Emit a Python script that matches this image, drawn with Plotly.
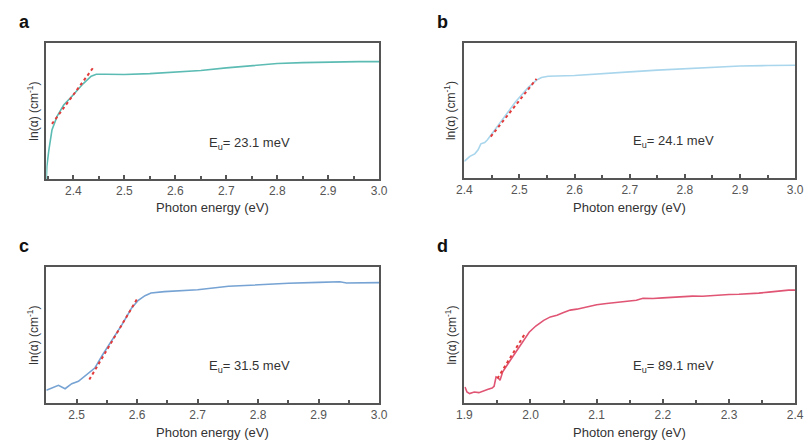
import plotly.graph_objects as go

# ---------------- data (normalized ln(alpha), arbitrary units) ----------------
a_x = [2.347, 2.348, 2.352, 2.358, 2.368, 2.381, 2.400, 2.419, 2.435, 2.445, 2.464, 2.500,
       2.550, 2.600, 2.650, 2.700, 2.750, 2.800, 2.850, 2.900, 2.935, 2.960, 3.000]
a_y = [0.0, 0.093, 0.215, 0.36, 0.46, 0.544, 0.62, 0.70, 0.756, 0.770, 0.770, 0.768,
       0.775, 0.785, 0.798, 0.817, 0.835, 0.849, 0.856, 0.861, 0.866, 0.863, 0.863]
a_fit_x = [2.358, 2.440]
a_fit_y = [0.405, 0.824]

b_x = [2.400, 2.410, 2.419, 2.425, 2.430, 2.437, 2.442, 2.451, 2.469, 2.493, 2.516, 2.531,
       2.540, 2.552, 2.600, 2.650, 2.700, 2.750, 2.800, 2.853, 2.900, 2.950, 3.000]
b_y = [0.123, 0.160, 0.179, 0.209, 0.253, 0.263, 0.283, 0.332, 0.430, 0.565, 0.671, 0.725,
       0.744, 0.754, 0.759, 0.770, 0.786, 0.799, 0.811, 0.823, 0.830, 0.833, 0.835]
b_fit_x = [2.448, 2.531]
b_fit_y = [0.307, 0.735]

c_x = [2.450, 2.459, 2.470, 2.481, 2.492, 2.503, 2.516, 2.530, 2.543, 2.559, 2.575, 2.591,
       2.602, 2.613, 2.623, 2.645, 2.700, 2.751, 2.800, 2.850, 2.900, 2.935, 2.946, 3.000]
c_y = [0.093, 0.110, 0.130, 0.105, 0.142, 0.159, 0.208, 0.257, 0.355, 0.466, 0.576, 0.699,
       0.755, 0.789, 0.809, 0.819, 0.833, 0.858, 0.870, 0.880, 0.887, 0.892, 0.882, 0.885]
c_fit_x = [2.521, 2.600]
c_fit_y = [0.172, 0.765]

d_x = [1.901, 1.904, 1.908, 1.915, 1.922, 1.930, 1.936, 1.942, 1.945, 1.948, 1.951, 1.954,
       1.958, 1.968, 1.978, 1.988, 1.998, 2.008, 2.020, 2.030, 2.040, 2.050, 2.060, 2.070,
       2.080, 2.090, 2.100, 2.115, 2.130, 2.145, 2.160, 2.170, 2.185, 2.200, 2.215, 2.230,
       2.245, 2.260, 2.275, 2.290, 2.300, 2.315, 2.330, 2.345, 2.360, 2.375, 2.390, 2.400]
d_y = [0.118, 0.081, 0.069, 0.081, 0.076, 0.093, 0.101, 0.110, 0.123, 0.192, 0.185, 0.167,
       0.229, 0.303, 0.377, 0.448, 0.520, 0.566, 0.608, 0.633, 0.645, 0.665, 0.683, 0.690,
       0.700, 0.713, 0.722, 0.731, 0.741, 0.748, 0.756, 0.770, 0.768, 0.773, 0.778, 0.781,
       0.786, 0.785, 0.791, 0.793, 0.798, 0.800, 0.803, 0.808, 0.815, 0.823, 0.830, 0.830]
d_fit_x = [1.950, 1.992]
d_fit_y = [0.180, 0.512]

panels = [
    dict(letter="a", x=a_x, y=a_y, fx=a_fit_x, fy=a_fit_y, color="#5cbcb4",
         xr=[2.347, 3.0], lab="E<sub>u</sub>= 23.1 meV", lx=2.662, ly=0.263),
    dict(letter="b", x=b_x, y=b_y, fx=b_fit_x, fy=b_fit_y, color="#a9d6ec",
         xr=[2.4, 3.0], lab="E<sub>u</sub>= 24.1 meV", lx=2.702, ly=0.27),
    dict(letter="c", x=c_x, y=c_y, fx=c_fit_x, fy=c_fit_y, color="#76a3d3",
         xr=[2.45, 3.0], lab="E<sub>u</sub>= 31.5 meV", lx=2.7155, ly=0.27),
    dict(letter="d", x=d_x, y=d_y, fx=d_fit_x, fy=d_fit_y, color="#e05474",
         xr=[1.9, 2.4], lab="E<sub>u</sub>= 89.1 meV", lx=2.152, ly=0.266),
]

OFF = 8  # page body margin; figure sized to fit the window without scrollbars
W, H = 812 - OFF, 441 - OFF
boxes = [(39, 379, 43, 179), (466, 804, 43, 178), (39, 379, 267, 403), (466, 804, 267, 403)]
font = "Liberation Sans, Arial, sans-serif"


def px(v):
    return (v - OFF) / W


def py(v):
    return 1 - (v - OFF) / H


traces = []
layout = dict(width=W, height=H, autosize=False, margin=dict(l=0, r=0, t=0, b=0, pad=0),
              paper_bgcolor="white", plot_bgcolor="white", showlegend=False)
annotations = []
for i, (p, (l, r, t, b)) in enumerate(zip(panels, boxes)):
    n = i + 1
    xa = "x" if n == 1 else f"x{n}"
    ya = "y" if n == 1 else f"y{n}"
    traces.append(go.Scatter(x=p["x"], y=p["y"], mode="lines", xaxis=xa, yaxis=ya,
                             line=dict(color=p["color"], width=1.6)))
    traces.append(go.Scatter(x=p["fx"], y=p["fy"], mode="lines", xaxis=xa, yaxis=ya,
                             line=dict(color="#e23b3b", width=2, dash="dot")))
    axkey = "xaxis" if n == 1 else f"xaxis{n}"
    aykey = "yaxis" if n == 1 else f"yaxis{n}"
    layout[axkey] = dict(domain=[px(l), px(r)], anchor=ya, range=p["xr"],
                         tick0=0, dtick=0.1, tickformat=".1f",
                         ticks="inside", ticklen=4, tickcolor="#555", tickwidth=1.5,
                         minor=dict(dtick=0.05, ticks="inside", ticklen=3, tickwidth=1.5),
                         showline=True, mirror=True, linecolor="#555", linewidth=1.5,
                         showgrid=False, zeroline=False,
                         tickfont=dict(family=font, size=12, color="#555"))
    layout[aykey] = dict(domain=[py(b), py(t)], anchor=xa, range=[0, 1],
                         showticklabels=False, ticks="", showline=True, mirror=True,
                         linecolor="#555", linewidth=1.5,
                         showgrid=False, zeroline=False)
    annotations.append(dict(x=p["lx"], y=p["ly"], xref=xa, yref=ya, text=p["lab"], showarrow=False,
                            xanchor="left", yanchor="middle",
                            font=dict(family=font, size=13, color="#333")))
    annotations.append(dict(x=px((l + r) / 2), y=py(b + 29), xref="paper", yref="paper",
                            text="Photon energy (eV)", showarrow=False,
                            xanchor="center", yanchor="middle",
                            font=dict(family=font, size=13, color="#333")))
    annotations.append(dict(x=px(l - 14), y=py((t + b) / 2), xref="paper", yref="paper",
                            text="ln(α) (cm<sup>-1</sup>)", textangle=-90, showarrow=False,
                            xanchor="center", yanchor="middle",
                            font=dict(family=font, size=12, color="#333")))
    annotations.append(dict(x=px(l - 30), y=py(t - 21), xref="paper", yref="paper",
                            text="<b>" + p["letter"] + "</b>", showarrow=False,
                            xanchor="left", yanchor="middle",
                            font=dict(family=font, size=18, color="#111")))

layout["annotations"] = annotations
fig = go.Figure(data=traces, layout=layout)
fig.write_html("out.html", config={"responsive": False})
